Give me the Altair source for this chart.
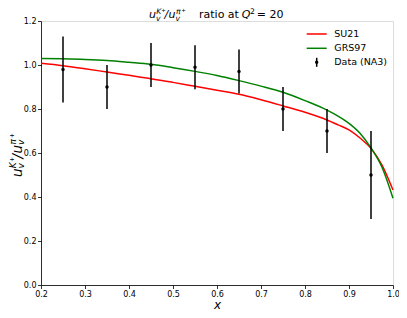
import altair as alt
import pandas as pd

# ---- data ----
curve_x = [0.2, 0.25, 0.3, 0.35, 0.4, 0.45, 0.5, 0.55, 0.6, 0.65, 0.7, 0.75, 0.8,
           0.85, 0.875, 0.9, 0.925, 0.95, 0.975, 1.0]
su21 = [1.008, 0.997, 0.983, 0.968, 0.953, 0.938, 0.921, 0.903, 0.885, 0.867, 0.842,
        0.814, 0.785, 0.750, 0.728, 0.705, 0.668, 0.621, 0.545, 0.432]
grs97 = [1.030, 1.028, 1.025, 1.020, 1.012, 1.003, 0.988, 0.971, 0.952, 0.929, 0.904,
         0.876, 0.838, 0.795, 0.768, 0.735, 0.690, 0.623, 0.535, 0.394]
data_x = [0.25, 0.35, 0.45, 0.55, 0.65, 0.75, 0.85, 0.95]
data_y = [0.98, 0.90, 1.00, 0.99, 0.97, 0.80, 0.70, 0.50]
data_err = [0.15, 0.10, 0.10, 0.10, 0.10, 0.10, 0.10, 0.20]
x_ticks = [0.2, 0.3, 0.4, 0.5, 0.6, 0.7, 0.8, 0.9, 1.0]
y_ticks = [0.0, 0.2, 0.4, 0.6, 0.8, 1.0, 1.2]
series_names = ["SU21", "GRS97", "Data (NA3)"]
series_colors = ["#ff0000", "#008000", "#000000"]

W, H = 352, 264
OX, OY = 41, 21  # page position of plot origin
FONT = "DejaVu Sans"

su_df = pd.DataFrame({"x": curve_x, "y": su21})
grs_df = pd.DataFrame({"x": curve_x, "y": grs97})
pts = pd.DataFrame({
    "x": data_x,
    "y": data_y,
    "lo": [y - e for y, e in zip(data_y, data_err)],
    "hi": [y + e for y, e in zip(data_y, data_err)],
})

xscale = alt.Scale(domain=[0.2, 1.0], nice=False, zero=False)
yscale = alt.Scale(domain=[0.0, 1.2], nice=False, zero=False)

xaxis = alt.Axis(values=x_ticks, format=".1f", title=None, tickSize=3.5, labelPadding=2,
                 labelFontSize=8, labelFont=FONT, labelColor="black", grid=False,
                 domainColor="black", domainWidth=0.8, tickColor="black", tickWidth=0.8,
                 labelFlush=False, labelOverlap=False)
yaxis = alt.Axis(values=y_ticks, format=".1f", title=None, tickSize=3.5, labelPadding=1.5,
                 labelFontSize=8, labelFont=FONT, labelColor="black", grid=False,
                 domainColor="black", domainWidth=0.8, tickColor="black", tickWidth=0.8,
                 labelFlush=False, labelOverlap=False)

line_su = alt.Chart(su_df).mark_line(color=series_colors[0], strokeWidth=1.5,
                                     interpolate="monotone").encode(
    x=alt.X("x:Q", scale=xscale, axis=xaxis),
    y=alt.Y("y:Q", scale=yscale, axis=yaxis),
)
line_grs = alt.Chart(grs_df).mark_line(color=series_colors[1], strokeWidth=1.5,
                                       interpolate="monotone").encode(
    x=alt.X("x:Q", scale=xscale),
    y=alt.Y("y:Q", scale=yscale),
)
bars = alt.Chart(pts).mark_rule(color="black", strokeWidth=1.5).encode(
    x=alt.X("x:Q", scale=xscale),
    y=alt.Y("lo:Q", scale=yscale),
    y2="hi:Q",
)
dots = alt.Chart(pts).mark_point(filled=True, color="black", size=12, opacity=1).encode(
    x=alt.X("x:Q", scale=xscale),
    y=alt.Y("y:Q", scale=yscale),
)

one = pd.DataFrame({"a": [0]})


def txt(s, px, py, size, italic=False, angle=0, align="left", baseline="alphabetic"):
    return alt.Chart(one).mark_text(
        text=s, fontSize=size, font=FONT, fontStyle="italic" if italic else "normal",
        align=align, baseline=baseline, angle=angle, color="black",
    ).encode(x=alt.value(px - OX), y=alt.value(py - OY))


# title: u_v^{K^+}/u_v^{pi^+} ratio at Q^2 = 20
M, S, N = 11, 7.7, 5.4
TB = 18.3
title = [
    txt("u", 149, TB, M, True),
    txt("v", 156, TB + 2.5, S, True),
    txt("K", 156.3, TB - 4.8, S, True),
    txt("+", 161.3, TB - 6.8, N),
    txt("/", 164.5, TB, M, True),
    txt("u", 168.5, TB, M, True),
    txt("v", 175.5, TB + 2.5, S, True),
    txt("π", 176, TB - 4.8, S, True),
    txt("+", 181.2, TB - 6.8, N),
    txt("ratio at", 199, TB, M),
    txt("Q", 241.7, TB, M, True),
    txt("2", 250, TB - 4.3, S),
    txt("= 20", 256.8, TB, M),
]

# y label (rotated)
YM, YS, YN = 13.5, 9, 6.3
YB = 21.5
ylab = [
    txt("u", YB, 177, YM, True, 270),
    txt("v", YB + 2.6, 168.4, YS, True, 270),
    txt("K", YB - 5.8, 168.2, YS, True, 270),
    txt("+", YB - 7.8, 162.0, YN, False, 270),
    txt("/", YB, 158.4, YM, True, 270),
    txt("u", YB, 153.5, YM, True, 270),
    txt("v", YB + 2.6, 145.0, YS, True, 270),
    txt("π", YB - 5.8, 144.6, YS, True, 270),
    txt("+", YB - 7.8, 138.2, YN, False, 270),
]

xlab = [txt("x", 217.5, 308.5, 12, True, 0, "center")]

# legend
LX0, LX1, LT = 306.7, 326.7, 334.3
rows = [34, 48.3, 62.3]
leg = []
for i in range(2):
    leg.append(alt.Chart(one).mark_rule(color=series_colors[i], strokeWidth=1.5).encode(
        x=alt.value(LX0 - OX), x2=alt.value(LX1 - OX), y=alt.value(rows[i] - OY)))
leg.append(alt.Chart(one).mark_rule(color="black", strokeWidth=1.5).encode(
    x=alt.value((LX0 + LX1) / 2 - OX), y=alt.value(rows[2] - 4.5 - OY),
    y2=alt.value(rows[2] + 4.5 - OY)))
leg.append(alt.Chart(one).mark_point(filled=True, color="black", size=12, opacity=1).encode(
    x=alt.value((LX0 + LX1) / 2 - OX), y=alt.value(rows[2] - OY)))
for i, name in enumerate(series_names):
    leg.append(txt(name, LT, rows[i], 9.5, False, 0, "left", "middle"))

chart = alt.layer(line_su, line_grs, bars, dots, *title, *ylab, *xlab, *leg).properties(
    width=W, height=H,
    autosize=alt.AutoSizeParams(type="none"),
    padding={"left": OX - 8, "top": OY - 8, "right": 6, "bottom": 302 - (OY - 8) - H},
).configure_view(stroke="black", strokeWidth=0.8).configure(background="white")

chart.save("out.html", embed_options={"renderer": "svg", "actions": False})
